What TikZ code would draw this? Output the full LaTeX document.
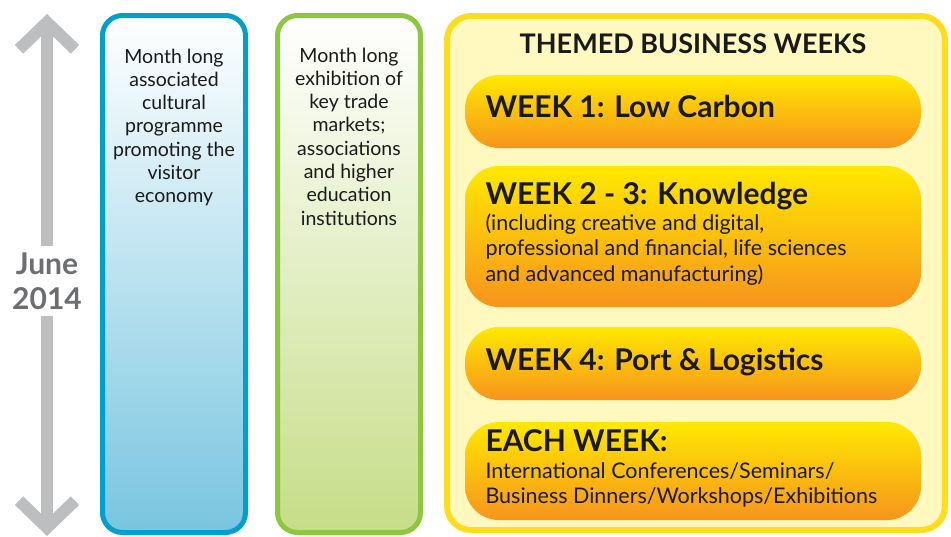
\documentclass[tikz,border=0pt]{standalone}
\usepackage{fontspec}
\setmainfont{Lato}
\usetikzlibrary{arrows.meta,positioning}
\definecolor{culblue}{HTML}{00A0CC}
\definecolor{culfill}{HTML}{78C5E0}
\definecolor{exgreen}{HTML}{8DC63F}
\definecolor{exfill}{HTML}{C6DD88}
\definecolor{weekrim}{HTML}{FFDD1A}
\definecolor{weekpaper}{HTML}{FFF9C0}
\definecolor{pilltop}{HTML}{FFE900}
\definecolor{pillbot}{HTML}{F7941D}
\definecolor{timegray}{HTML}{BCBEC0}
\definecolor{dategray}{HTML}{6D6E71}
\definecolor{ink}{HTML}{1A1A1A}

\begin{document}
\begin{tikzpicture}[x=1pt,y=-1pt,line width=5pt,
  colbox/.style={rounded corners=20pt},
  pill/.style={rounded corners=34pt,top color=pilltop,bottom color=pillbot},
  timeline/.style={timegray,line width=12pt,-{Straight Barb[sharp,length=27pt,width=56pt]}},
  coltxt/.style={ink,align=center,anchor=base,inner sep=0pt,font=\fontsize{19.5}{23.3}\selectfont},
  headtxt/.style={ink,anchor=base west,inner sep=0pt,font=\bfseries\fontsize{30}{32}\selectfont},
  subtxt/.style={ink,anchor=base west,align=left,inner sep=0pt}]
\useasboundingbox (0,0) rectangle (951,536);
% time line
\node[dategray,align=center,inner xsep=0pt,inner ysep=4pt,font=\bfseries\fontsize{30}{35}\selectfont] (date) at (47,281) {June\\2014};
\coordinate (top) at (47,14);
\coordinate (bot) at (47,536);
\draw[timeline] (date.north) -- (top);
\draw[timeline] (date.south) -- (bot);
% cultural column (base = last line)
\draw[colbox,draw=culblue,top color=white,bottom color=culfill] (102.5,15.5) rectangle (245.5,532.5);
\node[coltxt] (cultxt) at (174,202.8) {Month long\\associated\\cultural\\programme\\promoting the\\visitor\\economy};
% exhibition column
\draw[colbox,draw=exgreen,top color=white,bottom color=exfill] (277.5,15.5) rectangle (420.5,532.5);
\node[coltxt] (extxt) at (349,225.1) {Month long\\exhibition of\\key trade\\markets;\\associations\\and higher\\education\\institutions};
% business weeks
\draw[rounded corners=24pt,draw=weekrim,line width=6pt,fill=weekpaper] (447,16) rectangle (945,530);
\node[ink,anchor=base,inner sep=0pt,font=\bfseries\fontsize{27}{30}\selectfont] (themed) at (693,53) {THEMED BUSINESS WEEKS};
\path[pill] (465,75) rectangle (921,148);
\node[headtxt] (wk1) at (483,117) {WEEK 1: Low Carbon};
\path[pill] (465,166) rectangle (921,307);
\node[headtxt] (wk23) at (483,204) {WEEK 2 - 3: Knowledge};
\node[subtxt,font=\fontsize{21.5}{25.8}\selectfont] (wk23sub) at (483,281.7) {(including creative and digital,\\professional and financial, life sciences\\and advanced manufacturing)};
\path[pill] (465,327) rectangle (921,400);
\node[headtxt] (wk4) at (483,370) {WEEK 4: Port \& Logistics};
\path[pill] (465,422) rectangle (921,520);
\node[headtxt] (each) at (483,451.7) {EACH WEEK:};
\node[subtxt,font=\fontsize{21.5}{24.5}\selectfont] (eachsub) at (483,503.3) {International Conferences/Seminars/\\Business Dinners/Workshops/Exhibitions};
\end{tikzpicture}
\end{document}
